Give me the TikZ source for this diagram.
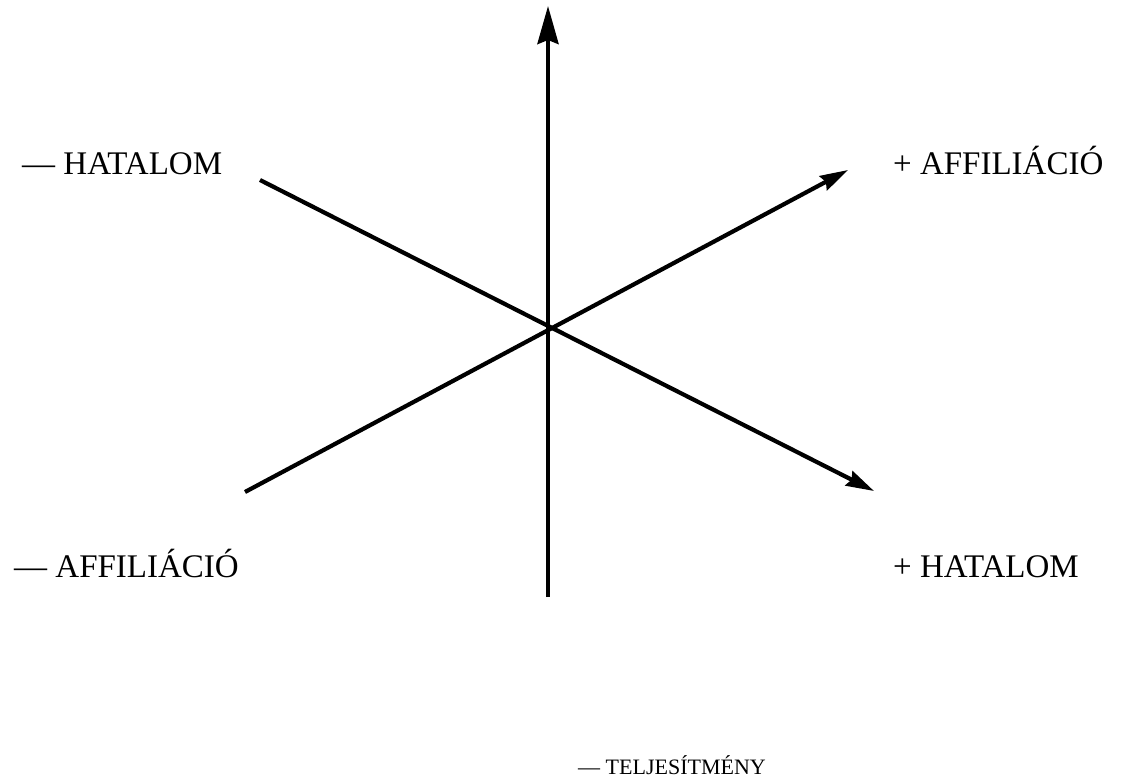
\documentclass[tikz,border=0pt]{standalone}
\usepackage{fontspec}
\setmainfont{Liberation Serif}
\usetikzlibrary{arrows.meta}
\begin{document}
\begin{tikzpicture}[x=1pt,y=-1pt,
  axis/.style={line width=4.2pt},
  lbl/.style={font=\fontsize{33}{38}\selectfont, inner sep=0pt, anchor=base west},
  small/.style={font=\fontsize{22}{26}\selectfont, inner sep=0pt, anchor=base west}]
\useasboundingbox (0,0) rectangle (1124,778);
\coordinate (vtop) at (548,6);
\coordinate (vbot) at (548,597);
\coordinate (hs) at (260,180);
\coordinate (he) at (874,491);
\coordinate (as) at (245,492);
\coordinate (ae) at (848,170);
\draw[axis,-{Stealth[length=38pt,width=21pt,inset=4pt]}] (vbot) -- (vtop);
\draw[axis,-{Stealth[length=28pt,width=16pt,inset=3pt]}] (hs) -- (he);
\draw[axis,-{Stealth[length=28pt,width=16pt,inset=3pt]}] (as) -- (ae);
\node[lbl] (hneg) at (22,175) {— HATALOM};
\node[lbl] (apos) at (893,175) {+ AFFILIÁCIÓ};
\node[lbl] (aneg) at (14,577) {— AFFILIÁCIÓ};
\node[lbl] (hpos) at (893,577) {+ HATALOM};
\node[small] (tneg) at (578,774) {— TELJESÍTMÉNY};
\end{tikzpicture}
\end{document}
